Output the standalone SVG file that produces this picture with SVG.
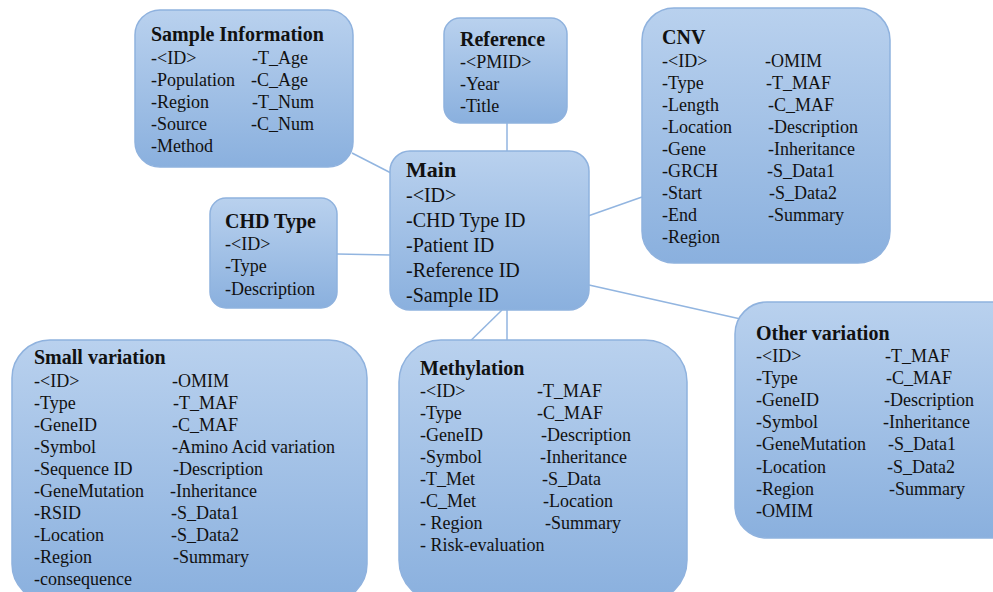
<svg xmlns="http://www.w3.org/2000/svg" width="993" height="592" viewBox="0 0 993 592">
<defs>
<linearGradient id="g" x1="0" y1="0" x2="0" y2="1">
<stop offset="0" stop-color="#b9d1ee"/>
<stop offset="1" stop-color="#8ab0de"/>
</linearGradient>
<style>
.box{fill:url(#g);stroke:#8fb2de;stroke-width:1.5}
.t{font-family:"Liberation Serif","Times New Roman",serif;font-weight:bold;font-size:20px;fill:#111}
.i{font-family:"Liberation Serif","Times New Roman",serif;font-size:18px;fill:#111}
.m{font-family:"Liberation Serif","Times New Roman",serif;font-size:20px;fill:#111}
.c{stroke:#92b5e0;stroke-width:1.5;fill:none}
</style>
</defs>
<rect width="993" height="592" fill="#fff"/>
<g id="connectors">
<line class="c" x1="352" y1="153" x2="391" y2="173"/>
<line class="c" x1="507" y1="123" x2="507" y2="151"/>
<line class="c" x1="588" y1="216" x2="642" y2="197"/>
<line class="c" x1="337" y1="254" x2="390" y2="255"/>
<line class="c" x1="589" y1="285" x2="745" y2="320"/>
<line class="c" x1="507" y1="310" x2="507" y2="340"/>
<line class="c" x1="502" y1="310" x2="455" y2="356"/>
</g>
<g id="sample-information">
<rect class="box" x="135" y="10" width="218" height="157" rx="25"/>
<text class="t" x="151" y="41">Sample Information</text>
<text class="i" x="151" y="64">-&lt;ID&gt;</text>
<text class="i" x="151" y="86">-Population</text>
<text class="i" x="151" y="108">-Region</text>
<text class="i" x="151" y="130">-Source</text>
<text class="i" x="151" y="152">-Method</text>
<text class="i" x="252" y="64">-T_Age</text>
<text class="i" x="251" y="86">-C_Age</text>
<text class="i" x="252" y="108">-T_Num</text>
<text class="i" x="251" y="130">-C_Num</text>
</g>
<g id="reference">
<rect class="box" x="444" y="18" width="123" height="105" rx="16"/>
<text class="t" x="460" y="46">Reference</text>
<text class="i" x="460" y="68">-&lt;PMID&gt;</text>
<text class="i" x="460" y="90">-Year</text>
<text class="i" x="460" y="112">-Title</text>
</g>
<g id="cnv">
<rect class="box" x="642" y="8" width="248" height="255" rx="32"/>
<text class="t" x="662" y="44">CNV</text>
<text class="i" x="662" y="67">-&lt;ID&gt;</text>
<text class="i" x="662" y="89">-Type</text>
<text class="i" x="662" y="111">-Length</text>
<text class="i" x="662" y="133">-Location</text>
<text class="i" x="662" y="155">-Gene</text>
<text class="i" x="662" y="177">-GRCH</text>
<text class="i" x="662" y="199">-Start</text>
<text class="i" x="662" y="221">-End</text>
<text class="i" x="662" y="243">-Region</text>
<text class="i" x="765" y="67">-OMIM</text>
<text class="i" x="766" y="89">-T_MAF</text>
<text class="i" x="768" y="111">-C_MAF</text>
<text class="i" x="768" y="133">-Description</text>
<text class="i" x="768" y="155">-Inheritance</text>
<text class="i" x="767" y="177">-S_Data1</text>
<text class="i" x="769" y="199">-S_Data2</text>
<text class="i" x="768" y="221">-Summary</text>
</g>
<g id="chd-type">
<rect class="box" x="210" y="198" width="127" height="110" rx="16"/>
<text class="t" x="225" y="228">CHD Type</text>
<text class="i" x="225" y="250">-&lt;ID&gt;</text>
<text class="i" x="225" y="272">-Type</text>
<text class="i" x="225" y="295">-Description</text>
</g>
<g id="main">
<rect class="box" x="390" y="151" width="199" height="159" rx="20"/>
<text class="t" x="406" y="177" style="font-size:22px">Main</text>
<text class="m" x="406" y="202">-&lt;ID&gt;</text>
<text class="m" x="406" y="227">-CHD Type ID</text>
<text class="m" x="406" y="252">-Patient ID</text>
<text class="m" x="406" y="277">-Reference ID</text>
<text class="m" x="406" y="302">-Sample ID</text>
</g>
<g id="small-variation">
<rect class="box" x="12" y="340" width="355" height="262" rx="38"/>
<text class="t" x="34" y="364">Small variation</text>
<text class="i" x="34" y="387">-&lt;ID&gt;</text>
<text class="i" x="34" y="409">-Type</text>
<text class="i" x="34" y="431">-GeneID</text>
<text class="i" x="34" y="453">-Symbol</text>
<text class="i" x="34" y="475">-Sequence ID</text>
<text class="i" x="34" y="497">-GeneMutation</text>
<text class="i" x="34" y="519">-RSID</text>
<text class="i" x="34" y="541">-Location</text>
<text class="i" x="34" y="563">-Region</text>
<text class="i" x="34" y="585">-consequence</text>
<text class="i" x="172" y="387">-OMIM</text>
<text class="i" x="173" y="409">-T_MAF</text>
<text class="i" x="172" y="431">-C_MAF</text>
<text class="i" x="172" y="453">-Amino Acid variation</text>
<text class="i" x="173" y="475">-Description</text>
<text class="i" x="170" y="497">-Inheritance</text>
<text class="i" x="171" y="519">-S_Data1</text>
<text class="i" x="171" y="541">-S_Data2</text>
<text class="i" x="173" y="563">-Summary</text>
</g>
<g id="methylation">
<rect class="box" x="399" y="340" width="288" height="262" rx="42"/>
<text class="t" x="420" y="375">Methylation</text>
<text class="i" x="420" y="397">-&lt;ID&gt;</text>
<text class="i" x="420" y="419">-Type</text>
<text class="i" x="420" y="441">-GeneID</text>
<text class="i" x="420" y="463">-Symbol</text>
<text class="i" x="420" y="485">-T_Met</text>
<text class="i" x="420" y="507">-C_Met</text>
<text class="i" x="420" y="529">- Region</text>
<text class="i" x="420" y="551">- Risk-evaluation</text>
<text class="i" x="537" y="397">-T_MAF</text>
<text class="i" x="537" y="419">-C_MAF</text>
<text class="i" x="541" y="441">-Description</text>
<text class="i" x="540" y="463">-Inheritance</text>
<text class="i" x="542" y="485">-S_Data</text>
<text class="i" x="543" y="507">-Location</text>
<text class="i" x="545" y="529">-Summary</text>
</g>
<g id="other-variation">
<rect class="box" x="735" y="302" width="290" height="236" rx="32"/>
<text class="t" x="756" y="340">Other variation</text>
<text class="i" x="756" y="362">-&lt;ID&gt;</text>
<text class="i" x="756" y="384">-Type</text>
<text class="i" x="756" y="406">-GeneID</text>
<text class="i" x="756" y="428">-Symbol</text>
<text class="i" x="756" y="450">-GeneMutation</text>
<text class="i" x="756" y="473">-Location</text>
<text class="i" x="756" y="495">-Region</text>
<text class="i" x="756" y="517">-OMIM</text>
<text class="i" x="885" y="362">-T_MAF</text>
<text class="i" x="886" y="384">-C_MAF</text>
<text class="i" x="884" y="406">-Description</text>
<text class="i" x="883" y="428">-Inheritance</text>
<text class="i" x="888" y="450">-S_Data1</text>
<text class="i" x="887" y="473">-S_Data2</text>
<text class="i" x="889" y="495">-Summary</text>
</g>
</svg>
